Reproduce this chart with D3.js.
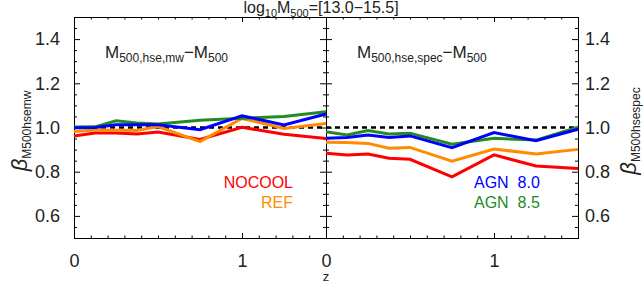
<!DOCTYPE html>
<html>
<head>
<meta charset="utf-8">
<script src="https://cdn.jsdelivr.net/npm/d3@7"></script>
<style>
  body { margin: 0; background: #fff; }
  svg { font-family: "Liberation Sans", "DejaVu Sans", sans-serif; }
  .axis path, .axis line { stroke: #000; stroke-width: 1; }
  .axis text { font-size: 18px; fill: #222; }
</style>
</head>
<body>
<script>
// redshift snapshots
var redshifts = [0, 0.125, 0.25, 0.375, 0.5, 0.75, 1.0, 1.25, 1.5];

// left panel: M500,hse,mw / M500
var nocoolMw = [0.962, 0.975, 0.975, 0.971, 0.980, 0.946, 1.001, 0.969, 0.950];
var refMw    = [0.982, 0.989, 0.988, 0.986, 1.004, 0.936, 1.041, 0.996, 1.018];
var agn85Mw  = [1.002, 1.003, 1.030, 1.020, 1.016, 1.033, 1.042, 1.050, 1.071];
var agn80Mw  = [0.999, 1.000, 1.012, 1.013, 1.012, 0.990, 1.053, 1.012, 1.061];

// right panel: M500,hse,spec / M500
var nocoolSpec = [0.883, 0.876, 0.880, 0.861, 0.856, 0.777, 0.876, 0.826, 0.815];
var refSpec    = [0.933, 0.932, 0.928, 0.906, 0.910, 0.848, 0.903, 0.880, 0.901];
var agn85Spec  = [0.981, 0.966, 0.986, 0.971, 0.974, 0.924, 0.951, 0.943, 1.001];
var agn80Spec  = [0.951, 0.955, 0.966, 0.955, 0.962, 0.909, 0.977, 0.940, 0.992];

var seriesNames  = ["NOCOOL", "REF", "AGN\u00a0\u00a08.5", "AGN\u00a0\u00a08.0"];
var seriesColors = ["#ff0000", "#ff8c00", "#228b22", "#0000ff"];

var yMajor = [0.6, 0.8, 1.0, 1.2, 1.4];
var xMajor = [0, 1];

var svgWidth = 643, svgHeight = 285;
var plotTop = 17, plotBottom = 238;
var leftX0 = 74, midX = 326, rightX1 = 578;

var svg = d3.select("body").append("svg")
  .attr("width", svgWidth)
  .attr("height", svgHeight);

var y = d3.scaleLinear().domain([0.5, 1.5]).range([plotBottom, plotTop]);
var xL = d3.scaleLinear().domain([0, 1.5]).range([leftX0, midX]);
var xR = d3.scaleLinear().domain([0, 1.5]).range([midX, rightX1]);

var yMinor = d3.range(0.5, 1.5001, 0.05).map(function(v) { return +v.toFixed(2); })
  .filter(function(v) { return yMajor.indexOf(v) < 0; });
var xMinor = d3.range(0, 1.5001, 0.1).map(function(v) { return +v.toFixed(1); })
  .filter(function(v) { return xMajor.indexOf(v) < 0; });

function drawPanel(x, data, isLeft) {
  // bottom axis
  svg.append("g").attr("class", "axis").attr("transform", "translate(0," + plotBottom + ")")
    .call(d3.axisBottom(x).tickValues(xMajor).tickSize(-5).tickPadding(16).tickFormat(d3.format("d")));
  svg.append("g").attr("class", "axis").attr("transform", "translate(0," + plotBottom + ")")
    .call(d3.axisBottom(x).tickValues(xMinor).tickSize(-2.5).tickFormat(""));
  // top axis
  svg.append("g").attr("class", "axis").attr("transform", "translate(0," + plotTop + ")")
    .call(d3.axisTop(x).tickValues(xMajor).tickSize(-5).tickFormat(""));
  svg.append("g").attr("class", "axis").attr("transform", "translate(0," + plotTop + ")")
    .call(d3.axisTop(x).tickValues(xMinor).tickSize(-2.5).tickFormat(""));

  var x0 = x.range()[0], x1 = x.range()[1];
  // left side axis of panel
  svg.append("g").attr("class", "axis").attr("transform", "translate(" + x0 + ",0)")
    .call(d3.axisLeft(y).tickValues(yMajor).tickSize(-6).tickPadding(14)
      .tickFormat(isLeft ? d3.format(".1f") : ""));
  svg.append("g").attr("class", "axis").attr("transform", "translate(" + x0 + ",0)")
    .call(d3.axisLeft(y).tickValues(yMinor).tickSize(-3).tickFormat(""));
  // right side axis of panel
  svg.append("g").attr("class", "axis").attr("transform", "translate(" + x1 + ",0)")
    .call(d3.axisRight(y).tickValues(yMajor).tickSize(-6).tickPadding(7)
      .tickFormat(isLeft ? "" : d3.format(".1f")));
  svg.append("g").attr("class", "axis").attr("transform", "translate(" + x1 + ",0)")
    .call(d3.axisRight(y).tickValues(yMinor).tickSize(-3).tickFormat(""));

  // reference line at 1
  svg.append("line")
    .attr("x1", x0).attr("x2", x1)
    .attr("y1", y(1)).attr("y2", y(1))
    .attr("stroke", "#000").attr("stroke-width", 2.5)
    .attr("stroke-dasharray", "5,4");

  var line = d3.line()
    .x(function(d, i) { return x(redshifts[i]); })
    .y(function(d) { return y(d); });

  data.forEach(function(vals, k) {
    svg.append("path")
      .attr("d", line(vals))
      .attr("fill", "none")
      .attr("stroke", seriesColors[k])
      .attr("stroke-width", 3)
      .attr("stroke-linejoin", "miter");
  });
}

drawPanel(xL, [nocoolMw, refMw, agn85Mw, agn80Mw], true);
drawPanel(xR, [nocoolSpec, refSpec, agn85Spec, agn80Spec], false);

// title
var title = svg.append("text").attr("x", 321).attr("y", 13)
  .attr("text-anchor", "middle").style("font-size", "16px").attr("fill", "#222");
title.append("tspan").text("log");
title.append("tspan").attr("dy", 4).style("font-size", "11px").text("10");
title.append("tspan").attr("dy", -4).text("M");
title.append("tspan").attr("dy", 4).style("font-size", "11px").text("500");
title.append("tspan").attr("dy", -4).text("=[13.0\u221215.5]");

// panel labels
function panelLabel(xpos, sub) {
  var t = svg.append("text").attr("x", xpos).attr("y", 58).style("font-size", "17px").attr("fill", "#222");
  t.append("tspan").text("M");
  t.append("tspan").attr("dy", 4).style("font-size", "12px").text("500," + sub);
  t.append("tspan").attr("dy", -4).text("\u2212M");
  t.append("tspan").attr("dy", 4).style("font-size", "12px").text("500");
}
panelLabel(105, "hse,mw");
panelLabel(357, "hse,spec");

// legend
svg.append("text").attr("x", 293).attr("y", 188).attr("text-anchor", "end")
  .style("font-size", "16px").attr("fill", seriesColors[0]).text(seriesNames[0]);
svg.append("text").attr("x", 293).attr("y", 208).attr("text-anchor", "end")
  .style("font-size", "16px").attr("fill", seriesColors[1]).text(seriesNames[1]);
svg.append("text").attr("x", 474).attr("y", 188)
  .style("font-size", "16px").attr("fill", seriesColors[3]).text(seriesNames[3]);
svg.append("text").attr("x", 474).attr("y", 208)
  .style("font-size", "16px").attr("fill", seriesColors[2]).text(seriesNames[2]);

// x axis title
svg.append("text").attr("x", midX).attr("y", 281).attr("text-anchor", "middle")
  .style("font-size", "13px").attr("fill", "#222").text("z");

// y axis titles
function yTitle(xpos, sub) {
  var t = svg.append("text")
    .attr("transform", "translate(" + xpos + ",131) rotate(-90)")
    .attr("text-anchor", "middle").attr("fill", "#222");
  t.append("tspan").style("font-size", "22px").style("font-style", "italic").text("\u03b2");
  t.append("tspan").attr("dy", 4).style("font-size", "12px").text(sub);
}
yTitle(27, "M500hsemw");
yTitle(636, "M500hsespec");
</script>
</body>
</html>
